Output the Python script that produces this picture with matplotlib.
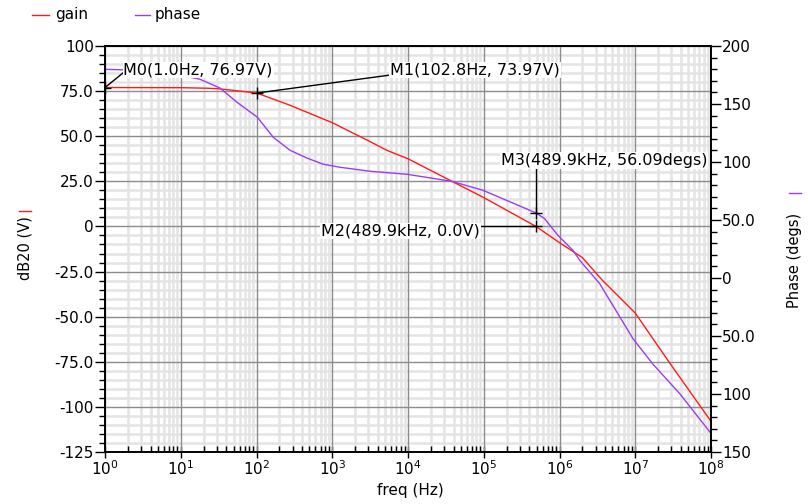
import numpy as np
import matplotlib
matplotlib.use('Agg')
import matplotlib.pyplot as plt
from matplotlib.ticker import LogLocator, MultipleLocator, NullFormatter
from matplotlib.lines import Line2D

# gain curve (log10 freq, dB20)
gain_logf = [0, 1, 1.35, 1.5, 2.0, 2.44, 3.0, 3.5, 3.72, 4.0, 4.58, 5.0, 5.69, 6.0, 6.3, 6.57, 7.0, 7.46, 8.0]
gain_db = [76.97, 76.9, 76.6, 76.3, 73.97, 67.2, 57.5, 47.0, 42.2, 37.5, 25.0, 16.0, 0.0, -9.0, -17.2, -30.0, -48.0, -76.0, -108.0]

# phase curve (log10 freq, degrees)
phase_logf = [0, 0.5, 0.99, 1.25, 1.52, 1.74, 2.01, 2.22, 2.44, 2.67, 2.88, 3.10, 3.5, 3.99, 4.58, 4.99, 5.69, 5.8,
              5.98, 6.18, 6.27, 6.53, 6.97, 7.23, 7.59, 8.0]
phase_deg = [179.9, 179.0, 174.9, 171.4, 163.7, 151.6, 138.7, 121.4, 110.2, 103.3, 98.1, 95.5, 92.0, 89.4, 83.3, 75.6,
             56.09, 51.4, 36.7, 23.7, 15.0, -4.8, -52.3, -74.0, -99.9, -134.0]

decades = [1, 1e1, 1e2, 1e3, 1e4, 1e5, 1e6, 1e7, 1e8]
left_ticks = [100, 75, 50, 25, 0, -25, -50, -75, -100, -125]
left_labels = ['100', '75.0', '50.0', '25.0', '0', '-25.0', '-50.0', '-75.0', '-100', '-125']
right_ticks = [200, 150, 100, 50, 0, -50, -100, -150]
right_labels = ['200', '150', '100', '50.0', '0', '50.0', '100', '150']

# marker label, marker point, text anchor, leader end (all in gain-axis data units)
markers = [
    ('M0(1.0Hz, 76.97V)', (1.0, 76.97), (1.75, 86.7, 'left'), (1.72, 85.0)),
    ('M1(102.8Hz, 73.97V)', (102.8, 73.97), (5800, 86.7, 'left'), (5800, 83.9)),
    ('M2(489.9kHz, 0.0V)', (489.9e3, 0.0), (8.9e4, -2.6, 'right'), (8.9e4, 0.0)),
]
m3_label = 'M3(489.9kHz, 56.09degs)'
m3_point = (489.9e3, 56.09)

RED = '#ff1a1a'
PURPLE = '#9b3cf0'

fig = plt.figure(figsize=(8.08, 5.04), dpi=100)
ax = fig.add_axes([105 / 808, 52 / 504, 606 / 808, 406 / 504])
ax2 = ax.twinx()

ax.plot(10 ** np.array(gain_logf), gain_db, color=RED, lw=1, zorder=3)
ax2.plot(10 ** np.array(phase_logf), phase_deg, color=PURPLE, lw=1, zorder=3)

ax.set_xscale('log')
ax.set_xlim(1, 1e8)
ax.set_ylim(-125, 100)
ax2.set_ylim(-150, 200)

ax.xaxis.set_major_locator(LogLocator(base=10, numticks=20))
ax.xaxis.set_minor_locator(LogLocator(base=10, subs=np.arange(2, 10), numticks=20))
ax.xaxis.set_minor_formatter(NullFormatter())
ax.set_yticks(left_ticks)
ax.set_yticklabels(left_labels)
ax.yaxis.set_minor_locator(MultipleLocator(5))
ax2.set_yticks(right_ticks)
ax2.set_yticklabels(right_labels)
ax2.yaxis.set_minor_locator(MultipleLocator(10))

# light minor grid, darker major grid drawn over it
ax.set_axisbelow(True)
ax.grid(which='minor', color='#e4e4e4', lw=1.8)
for d in decades:
    ax.axvline(d, color='#8c8c8c', lw=1, zorder=1)
for t in left_ticks:
    ax.axhline(t, color='#8c8c8c', lw=1, zorder=1)

for a in (ax, ax2):
    a.tick_params(which='major', length=7, width=1, labelsize=11, color='black')
    a.tick_params(which='minor', length=4, width=1)
    for s in a.spines.values():
        s.set_linewidth(1.2)
        s.set_zorder(4)
ax.tick_params(axis='x', which='major', direction='inout', length=8, pad=1)
ax.tick_params(axis='x', which='minor', direction='in', length=4)
ax.tick_params(axis='y', pad=1)
ax2.tick_params(axis='y', pad=1)

fig.text(410 / 808, 1 - 491 / 504, 'freq (Hz)', ha='center', va='center', fontsize=11)

# rotated axis titles with coloured trace marks
fig.text(25 / 808, 1 - 248 / 504, 'dB20 (V)', rotation=90, ha='center', va='center', fontsize=10.5)
fig.add_artist(Line2D([19 / 808, 31 / 808], [1 - 211 / 504, 1 - 211 / 504], color=RED, lw=1))
fig.text(795 / 808, 1 - 260 / 504, 'Phase (degs)', rotation=90, ha='center', va='center', fontsize=10.5)
fig.add_artist(Line2D([789 / 808, 801 / 808], [1 - 193 / 504, 1 - 193 / 504], color=PURPLE, lw=1))

# marker annotations drawn on top of both traces
box = dict(boxstyle='square,pad=0.05', fc='white', ec='none')
for lab, (f, v), (tx, ty, ha), (lx, ly) in markers:
    ax2.plot([f, lx], [v, ly], color='black', lw=1, transform=ax.transData, zorder=5)
    ax2.plot(f, v, marker='+', color='black', ms=8, mew=1, transform=ax.transData, zorder=6)
    ax2.text(tx, ty, lab, ha=ha, va='center', fontsize=11.5, bbox=box, transform=ax.transData, zorder=7)

f, v = m3_point
ax2.plot([f, f], [v, 95.5], color='black', lw=1, zorder=5)
ax2.plot(f, v, marker='+', color='black', ms=8, mew=1, zorder=6)
ax2.text(10 ** 7.95, 101.5, m3_label, ha='right', va='center', fontsize=11.5, bbox=box, zorder=7)

# legend at top left
fig.add_artist(Line2D([32 / 808, 49 / 808], [1 - 15 / 504] * 2, color=RED, lw=1))
fig.text(55 / 808, 1 - 15 / 504, 'gain', ha='left', va='center', fontsize=11)
fig.add_artist(Line2D([135 / 808, 150 / 808], [1 - 15 / 504] * 2, color=PURPLE, lw=1))
fig.text(155 / 808, 1 - 15 / 504, 'phase', ha='left', va='center', fontsize=11)

fig.savefig('out.png', dpi=100)
